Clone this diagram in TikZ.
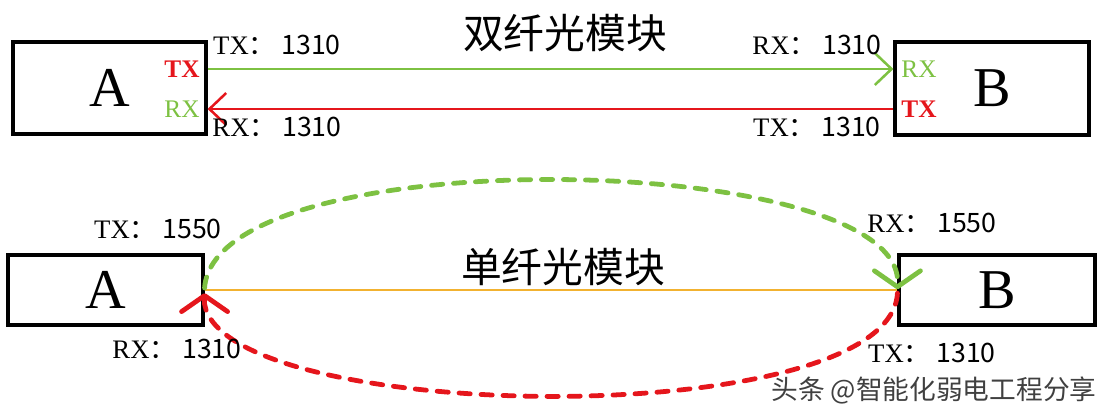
\documentclass[tikz,border=0pt]{standalone}
\usepackage{fontspec}
\setmainfont{Liberation Serif}
\newfontfamily\cjk{Noto Sans CJK SC}
\usetikzlibrary{arrows.meta,positioning}
\definecolor{fgreen}{HTML}{7DC142}
\definecolor{fred}{HTML}{E5161C}
\definecolor{forange}{HTML}{F2B230}

\begin{document}
\begin{tikzpicture}[x=0.025cm, y=-0.025cm,
  module/.style={rectangle, draw, line width=2.2pt, inner sep=0pt, font=\fontsize{40pt}{40pt}\selectfont},
  port/.style={inner sep=0pt, font=\fontsize{18pt}{18pt}\selectfont},
  wl/.style={inner sep=0pt, font=\fontsize{19pt}{19pt}\selectfont},
  title/.style={inner sep=0pt, font=\cjk\fontsize{29pt}{29pt}\selectfont},
  fiber/.style={line width=1.8pt, -{Straight Barb[length=0.42cm, width=0.8cm]}},
  arcline/.style={line width=3.4pt, line cap=round, dash pattern=on 0.28cm off 0.27cm,
    -{Straight Barb[length=0.4cm, width=1.15cm, round]}}
]
  \useasboundingbox (0,0) rectangle (1120,416);

  % dual fiber
  \node[title] (t1) at (565,33) {双纤光模块};
  \node[module, minimum width=4.825cm, minimum height=2.3cm] (a1) at (109.5,88) {A};
  \node[module, minimum width=4.85cm, minimum height=2.325cm] (b1) at (992,88.5) {B};
  \node[port, fred] (atx) at (182,69) {\bfseries TX};
  \node[port, fgreen] (arx) at (182,109) {RX};
  \node[port, fgreen] (brx) at (919,69) {RX};
  \node[port, fred] (btx) at (919,109) {\bfseries TX};
  \draw[fiber, fgreen] (a1.east |- atx) -- (b1.west |- brx);
  \draw[fiber, fred] (b1.west |- btx) -- (a1.east |- arx);
  \node[wl] (l1) at (277,45) {TX\cjk{：} 1310};
  \node[wl] (l2) at (277,127) {RX\cjk{：} 1310};
  \node[wl] (l3) at (817,45) {RX\cjk{：} 1310};
  \node[wl] (l4) at (817,127) {TX\cjk{：} 1310};

  % single fiber
  \node[title] (t2) at (563,267) {单纤光模块};
  \node[module, minimum width=4.875cm, minimum height=1.75cm] (a2) at (105.5,290) {A};
  \node[module, minimum width=4.9cm, minimum height=1.75cm] (b2) at (997,290) {B};
  \coordinate (gin) at ([yshift=0.3cm]b2.west);
  \coordinate (rin) at ([yshift=-0.35cm]a2.east);
  \draw[forange, line width=1.5pt] (a2.east) -- (b2.west);
  \draw[arcline, fgreen] ([yshift=0.05cm]a2.east) .. controls (215,140) and (885,150) .. (gin) -- ([yshift=0.02cm]b2.west);
  \draw[arcline, fred] ([yshift=-0.08cm]b2.west) .. controls (890,433) and (225,425) .. (rin) -- ([yshift=-0.08cm]a2.east);
  \node[wl] (l5) at (158,229) {TX\cjk{：} 1550};
  \node[wl] (l6) at (177,349) {RX\cjk{：} 1310};
  \node[wl] (l7) at (932,223) {RX\cjk{：} 1550};
  \node[wl] (l8) at (932,353) {TX\cjk{：} 1310};

  \node[inner sep=0pt, font=\cjk\fontsize{19pt}{19pt}\selectfont, black!75] (wm) at (934,390) {头条 @智能化弱电工程分享};
\end{tikzpicture}
\end{document}
